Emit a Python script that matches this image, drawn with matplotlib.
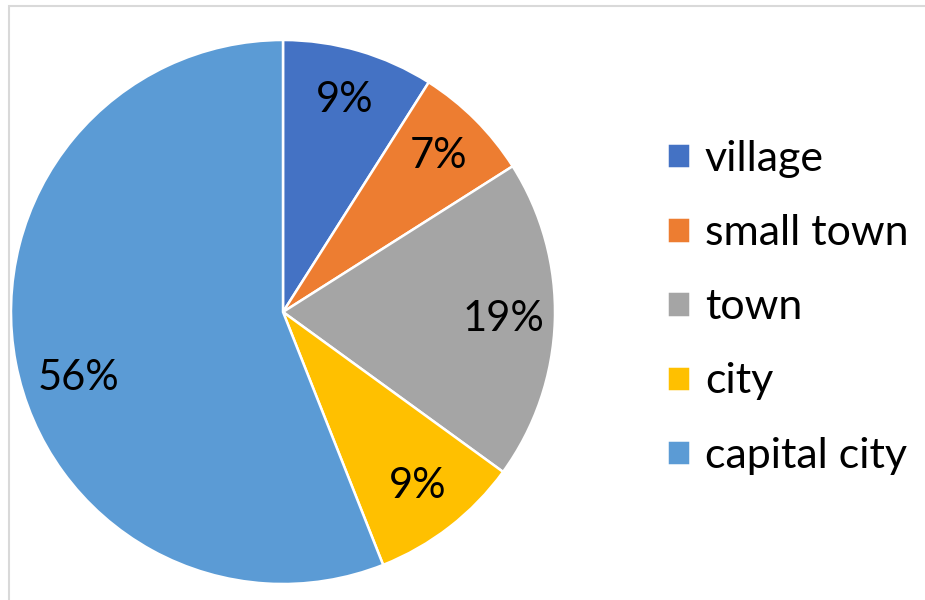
import numpy as np
import matplotlib.pyplot as plt
from matplotlib.patches import Rectangle

plt.rcParams['font.family'] = ['Lato', 'DejaVu Sans']

# datos del grafico
categories = ['village', 'small town', 'town', 'city', 'capital city']
shares = [9, 7, 19, 9, 56]
colors = ['#4472C4', '#ED7D31', '#A5A5A5', '#FFC000', '#5B9BD5']

W, H = 925, 600
fig = plt.figure(figsize=(W / 100, H / 100), dpi=100)

# borde gris del area del grafico (Excel)
fig.patches.append(Rectangle((9 / W, -0.05), 1.2, 1 - 6 / H + 0.05,
                             transform=fig.transFigure, fill=False,
                             edgecolor='#D9D9D9', linewidth=1.5))

# pie: centro (283, 312), radio 272 px
ax = fig.add_axes([11 / W, (H - 584) / H, 544 / W, 544 / H])
wedges, texts, autotexts = ax.pie(
    shares, colors=colors, startangle=90, counterclock=False,
    autopct='%1.0f%%', pctdistance=0.81,
    wedgeprops=dict(edgecolor='white', linewidth=1.8),
    textprops=dict(fontsize=30, color='black'))
ax.set_xlim(-1, 1)
ax.set_ylim(-1, 1)

# Excel coloca la etiqueta grande un poco mas abajo ("best fit")
w = wedges[-1]
ang = np.deg2rad((w.theta1 + w.theta2) / 2 + 7)
autotexts[-1].set_position((0.79 * np.cos(ang), 0.79 * np.sin(ang)))

fig.legend(wedges, categories, loc='upper left',
           bbox_to_anchor=(667 / W, 1 - 140 / H), frameon=False,
           fontsize=31, handlelength=0.53, handleheight=0.53,
           handletextpad=0.35, labelspacing=0.84, borderpad=0,
           borderaxespad=0)

fig.savefig('out.png', dpi=100)
plt.close(fig)
